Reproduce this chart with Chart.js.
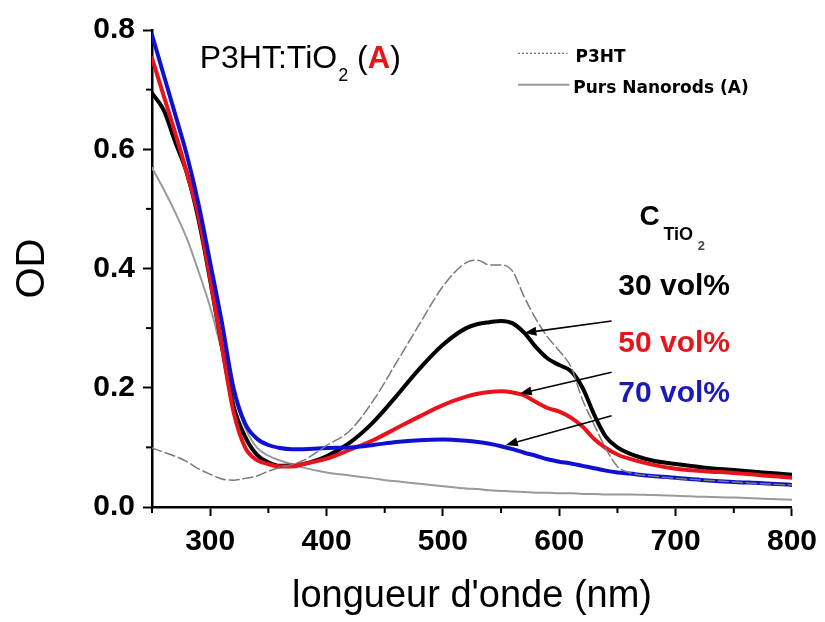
<!DOCTYPE html>
<html>
<head>
<meta charset="utf-8">
<script src="https://cdn.jsdelivr.net/npm/chart.js@4.4.1/dist/chart.umd.min.js"></script>
<style>
  html, body { margin: 0; padding: 0; background: #fff; }
  #wrap { width: 825px; height: 622px; }
</style>
</head>
<body>
<div id="wrap"><canvas id="c" width="825" height="622"></canvas></div>
<script>
// ---- Data ----
const wavelengths = [250,260,270,280,290,300,310,320,330,340,350,360,370,380,400,420,440,460,480,500,520,530,540,550,560,570,580,590,600,610,620,630,640,650,660,680,700,725,750,775,800];

const od30 = [0.694,0.666,0.612,0.560,0.482,0.380,0.270,0.170,0.118,0.088,0.075,0.069,0.069,0.072,0.085,0.108,0.142,0.186,0.232,0.272,0.300,0.307,0.310,0.312,0.308,0.292,0.268,0.249,0.238,0.228,0.200,0.155,0.118,0.100,0.090,0.078,0.072,0.066,0.062,0.058,0.054];
const od50 = [0.753,0.690,0.627,0.560,0.488,0.383,0.270,0.160,0.100,0.079,0.072,0.068,0.068,0.072,0.081,0.096,0.112,0.132,0.152,0.171,0.185,0.190,0.193,0.194,0.192,0.187,0.176,0.166,0.160,0.150,0.135,0.114,0.099,0.088,0.081,0.071,0.064,0.060,0.057,0.053,0.049];
const od70 = [0.792,0.725,0.658,0.590,0.508,0.410,0.310,0.200,0.140,0.115,0.104,0.099,0.097,0.097,0.099,0.100,0.104,0.109,0.112,0.113,0.111,0.109,0.106,0.102,0.097,0.091,0.086,0.080,0.076,0.073,0.069,0.065,0.061,0.058,0.056,0.052,0.049,0.045,0.042,0.040,0.037];
const odP3HT = [0.099,0.092,0.085,0.076,0.064,0.055,0.047,0.045,0.048,0.052,0.060,0.066,0.071,0.078,0.103,0.128,0.178,0.242,0.307,0.370,0.410,0.414,0.406,0.406,0.395,0.352,0.315,0.285,0.262,0.235,0.180,0.138,0.098,0.068,0.058,0.052,0.048,0.045,0.042,0.039,0.037];
const odRods = [0.569,0.533,0.494,0.450,0.395,0.335,0.262,0.190,0.133,0.100,0.086,0.078,0.072,0.066,0.058,0.053,0.048,0.043,0.039,0.035,0.031,0.030,0.028,0.027,0.026,0.025,0.024,0.024,0.023,0.023,0.022,0.022,0.021,0.021,0.021,0.020,0.019,0.017,0.016,0.014,0.012];

const seriesNames = ['P3HT','70 vol%','50 vol%','30 vol%','Purs Nanorods (A)'];
const xTicks = [300,400,500,600,700,800];
const xMinorTicks = [250,350,450,550,650,750];
const yTicks = [0.0,0.2,0.4,0.6,0.8];
const yMinorTicks = [0.1,0.3,0.5,0.7];
const concLabels = ['30 vol%','50 vol%','70 vol%'];

// ---- Annotation geometry (data units) ----
const arrows = [
  {from:[645,0.312], to:[570,0.292]},
  {from:[645,0.226], to:[566,0.190]},
  {from:[645,0.153], to:[554,0.104]}
];

const pts = ys => wavelengths.map((x,i)=>({x:x, y:ys[i]}));
const FONT = "'Liberation Sans', Arial, sans-serif";
const RED = '#e8141c', BLUE = '#1010d0';

const annotations = {
  id: 'annotations',
  afterDraw(chart) {
    const ctx = chart.ctx;
    const xs = chart.scales.x, ys = chart.scales.y;
    const px = v => xs.getPixelForValue(v), py = v => ys.getPixelForValue(v);
    ctx.save();
    // minor ticks
    ctx.strokeStyle = '#000'; ctx.lineWidth = 2;
    xMinorTicks.forEach(v => { const x = px(v); ctx.beginPath(); ctx.moveTo(x, ys.bottom); ctx.lineTo(x, ys.bottom + 6); ctx.stroke(); });
    yMinorTicks.forEach(v => { const y = py(v); ctx.beginPath(); ctx.moveTo(xs.left, y); ctx.lineTo(xs.left - 6, y); ctx.stroke(); });

    ctx.textBaseline = 'alphabetic'; ctx.textAlign = 'left';
    // Title P3HT:TiO2 (A)
    let x = px(291), y = py(0.736);
    ctx.fillStyle = '#000';
    ctx.font = "32px " + FONT;
    ctx.fillText('P3HT:TiO', x, y); x += ctx.measureText('P3HT:TiO').width;
    ctx.font = "18px " + FONT;
    ctx.fillText('2', x + 1, y + 13); x += ctx.measureText('2').width + 1;
    ctx.font = "32px " + FONT;
    ctx.fillText(' (', x, y); x += ctx.measureText(' (').width;
    ctx.font = "bold 31px " + FONT; ctx.fillStyle = RED;
    ctx.fillText('A', x, y); x += ctx.measureText('A').width;
    ctx.font = "32px " + FONT; ctx.fillStyle = '#000';
    ctx.fillText(')', x, y);

    // Legend
    const lx0 = px(564.6), lx1 = px(607);
    ctx.font = "bold 17px 'DejaVu Sans', sans-serif";
    ctx.strokeStyle = '#444'; ctx.lineWidth = 1; ctx.setLineDash([2,2]);
    ctx.beginPath(); ctx.moveTo(lx0, py(0.761)); ctx.lineTo(lx1, py(0.761)); ctx.stroke();
    ctx.setLineDash([]);
    ctx.fillStyle = '#000';
    ctx.fillText(seriesNames[0], px(614), py(0.746));
    ctx.strokeStyle = '#999'; ctx.lineWidth = 2;
    ctx.beginPath(); ctx.moveTo(lx0, py(0.708)); ctx.lineTo(lx1 + 2, py(0.708)); ctx.stroke();
    ctx.fillText(seriesNames[4], px(612), py(0.695));

    // C_TiO2
    ctx.font = "bold 28px " + FONT;
    ctx.fillText('C', px(669), py(0.473));
    ctx.font = "bold 18px " + FONT;
    ctx.fillText('TiO', px(689.5), py(0.448));
    ctx.font = "bold 13px " + FONT;
    ctx.fillStyle = '#444';
    ctx.fillText('2', px(719), py(0.431));

    // concentration labels
    ctx.font = "bold 30px " + FONT;
    const cols = ['#000', RED, '#1a1ab8'];
    const base = [0.3556, 0.2605, 0.1766];
    concLabels.forEach((t,i) => { ctx.fillStyle = cols[i]; ctx.fillText(t, px(650.7), py(base[i])); });

    // arrows
    ctx.strokeStyle = '#000'; ctx.fillStyle = '#000'; ctx.lineWidth = 1.6;
    arrows.forEach(a => {
      const x0 = px(a.from[0]), y0 = py(a.from[1]), x1 = px(a.to[0]), y1 = py(a.to[1]);
      const ang = Math.atan2(y1 - y0, x1 - x0);
      const L = 12, W = 4.5;
      ctx.beginPath(); ctx.moveTo(x0, y0); ctx.lineTo(x1 - Math.cos(ang)*L*0.8, y1 - Math.sin(ang)*L*0.8); ctx.stroke();
      ctx.beginPath();
      ctx.moveTo(x1, y1);
      ctx.lineTo(x1 - Math.cos(ang)*L - Math.sin(ang)*W, y1 - Math.sin(ang)*L + Math.cos(ang)*W);
      ctx.lineTo(x1 - Math.cos(ang)*L + Math.sin(ang)*W, y1 - Math.sin(ang)*L - Math.cos(ang)*W);
      ctx.closePath(); ctx.fill();
    });
    ctx.restore();
  }
};

const ds = (label, ys, color, width, dash) => ({
  label, data: pts(ys), borderColor: color, borderWidth: width, borderDash: dash || [],
  pointRadius: 0, fill: false, cubicInterpolationMode: 'monotone', borderCapStyle: 'round', borderJoinStyle: 'round'
});

new Chart(document.getElementById('c'), {
  type: 'line',
  data: {
    datasets: [
      ds(seriesNames[0], odP3HT, '#7a7a7a', 1.5, [10,4]),
      ds(seriesNames[1], od70, BLUE, 4),
      ds(seriesNames[2], od50, RED, 4),
      ds(seriesNames[3], od30, '#000', 4),
      ds(seriesNames[4], odRods, '#9a9a9a', 2)
    ]
  },
  plugins: [annotations],
  options: {
    responsive: false,
    animation: false,
    devicePixelRatio: 1,
    layout: { padding: { left: 0, top: 30, right: 26, bottom: 0 } },
    plugins: { legend: { display: false }, tooltip: { enabled: false } },
    scales: {
      x: {
        type: 'linear', min: 250, max: 800,
        afterBuildTicks: s => { s.ticks = xTicks.map(v => ({value: v})); },
        afterFit: s => { s.height = 115; },
        border: { display: true, color: '#000', width: 2.5 },
        grid: { display: true, drawOnChartArea: false, drawTicks: true, tickLength: 9, tickWidth: 2, tickColor: '#000' },
        ticks: { color: '#000', padding: 8, font: { family: FONT, size: 30, weight: 'bold' }, maxRotation: 0 },
        title: { display: true, text: "longueur d'onde (nm)", color: '#000', padding: { top: 0, bottom: 3 }, font: { family: FONT, size: 38 } }
      },
      y: {
        type: 'linear', min: 0, max: 0.8,
        afterBuildTicks: s => { s.ticks = yTicks.map(v => ({value: v})); },
        afterFit: s => { s.width = 152; },
        border: { display: true, color: '#000', width: 2.5 },
        grid: { display: true, drawOnChartArea: false, drawTicks: true, tickLength: 9, tickWidth: 2, tickColor: '#000' },
        ticks: { color: '#000', padding: 8, font: { family: FONT, size: 30, weight: 'bold' }, callback: v => v.toFixed(1) },
        title: { display: true, text: 'OD', color: '#000', padding: { top: 9, bottom: 0 }, font: { family: FONT, size: 40 } }
      }
    }
  }
});
</script>
</body>
</html>
